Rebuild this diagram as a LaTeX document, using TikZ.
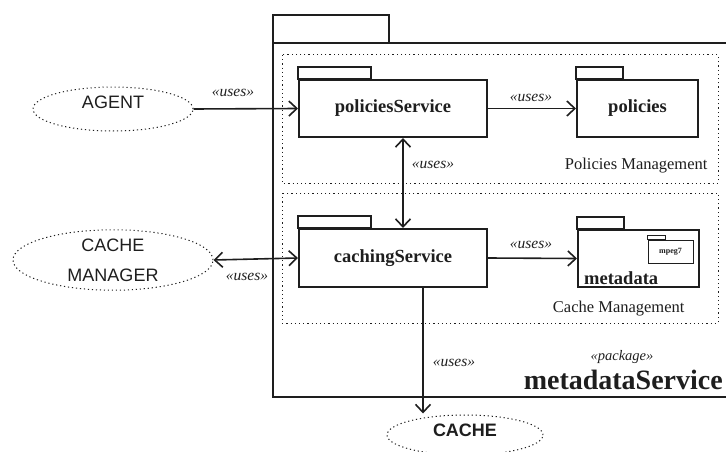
\documentclass[tikz,border=0pt]{standalone}
\usepackage{fontspec}
\setmainfont{Liberation Serif}
\setsansfont{Liberation Sans}
\usetikzlibrary{arrows.meta,calc,shapes.geometric}

\definecolor{ink}{RGB}{30,30,30}

\tikzset{
  pkgbox/.style={draw=ink, line width=2pt, fill=white, inner sep=0pt, text=ink,
    font=\fontsize{18.5}{20}\selectfont\bfseries},
  actor/.style={ellipse, draw=ink, line width=1pt, dash pattern=on 1.2pt off 2.8pt,
    inner sep=0pt, align=center, text=ink, font=\fontsize{18}{30}\selectfont\sffamily},
  uses/.style={-{Straight Barb[length=8pt,width=15pt]}, line width=1.6pt, draw=ink},
  usesboth/.style={{Straight Barb[length=8pt,width=15pt]}-{Straight Barb[length=8pt,width=15pt]},
    line width=1.6pt, draw=ink},
  stereo/.style={text=ink, font=\fontsize{15.5}{16}\selectfont\itshape},
  region/.style={draw=ink, line width=1pt, dash pattern=on 1.2pt off 3pt},
  regionlabel/.style={anchor=east, text=ink, font=\fontsize{16.5}{17}\selectfont},
}

% tab on top of a package box
\newcommand{\pkgtab}[2]{\draw[draw=ink, line width=2pt] (#1.north west) rectangle ++(#2,-12);}

\begin{document}
\begin{tikzpicture}[x=1pt, y=-1pt]
    \useasboundingbox (0,0) rectangle (726,452);

    % Paquete externo
    \draw[draw=ink, line width=2.2pt] (273,15) rectangle (389,43);
    \draw[draw=ink, line width=2.2pt] (730,43) -- (273,43) -- (273,397) -- (730,397);

    % Regioes
    \draw[region] (282,55) rectangle (718,183);
    \draw[region] (282,193) rectangle (718,323);
    \node[regionlabel] (pmlabel) at (711,166) {Policies Management};
    \node[regionlabel] (cmlabel) at (688,309) {Cache Management};

    % Paquetes internos
    \node[pkgbox, minimum width=188pt, minimum height=57pt] (ps) at (393,108.5) {policiesService};
    \node[pkgbox, minimum width=188pt, minimum height=58pt] (cs) at (393,258) {cachingService};
    \node[pkgbox, minimum width=121pt, minimum height=57pt] (pol) at (637.5,108.5) {policies};
    \node[pkgbox, minimum width=121pt, minimum height=57pt] (md) at (638.5,258.5) {};
    \pkgtab{ps}{73}
    \pkgtab{cs}{73}
    \pkgtab{pol}{47}
    \pkgtab{md}{47}
    \node[anchor=south west, inner sep=0pt, text=ink, font=\fontsize{18.5}{20}\selectfont\bfseries]
      (mdlabel) at ($(md.south west)+(7,-3)$) {metadata};

    % mpeg7
    \node[draw=ink, line width=0.8pt, minimum width=45pt, minimum height=23pt, inner sep=0pt,
      text=ink, font=\fontsize{8}{9}\selectfont\bfseries] (mp) at (670.5,251.5) {mpeg7};
    \draw[draw=ink, line width=0.8pt] (mp.north west) rectangle ++(18,-4);

    % Atores
    \node[actor, minimum width=160pt, minimum height=44pt] (ag) at (113,109) {\smash{AGENT}};
    \node[actor, minimum width=200pt, minimum height=60pt] (cm) at (113,260) {CACHE\\MANAGER};
    \node[actor, minimum width=156pt, minimum height=40pt, font=\fontsize{18}{20}\selectfont\sffamily\bfseries]
      (cache) at (465,435) {\raisebox{-1.5pt}[0pt][0pt]{CACHE}};

    % Dependencias
    \draw[uses] (ag.east) -- (ps.west);
    \node[stereo] (u1) at (233,93) {«uses»};
    \draw[uses] (ps.east) -- (pol.west);
    \node[stereo] (u2) at (531,98) {«uses»};
    \coordinate (psb) at ($(ps.south)+(10,0)$);
    \draw[usesboth] (psb) -- (psb |- cs.north);
    \node[stereo] (u3) at (433,165) {«uses»};
    \draw[usesboth] (cm.east) -- (cs.west);
    \node[stereo] (u4) at (247,277) {«uses»};
    \draw[uses] (cs.east) -- (md.west);
    \node[stereo] (u5) at (531,245) {«uses»};
    \coordinate (csb) at ($(cs.south)+(30,0)$);
    \draw[uses] (csb) -- ($(csb |- cache.north)+(0,-1)$);
    \node[stereo] (u6) at (454,363) {«uses»};

    % Nome do paquete
    \node[stereo, font=\fontsize{14.5}{16}\selectfont\itshape] (pk) at (622,357) {«package»};
    \node[anchor=east, inner sep=0pt, text=ink, font=\fontsize{28}{30}\selectfont\bfseries] (msname) at (723,380) {metadataService};
\end{tikzpicture}
\end{document}
